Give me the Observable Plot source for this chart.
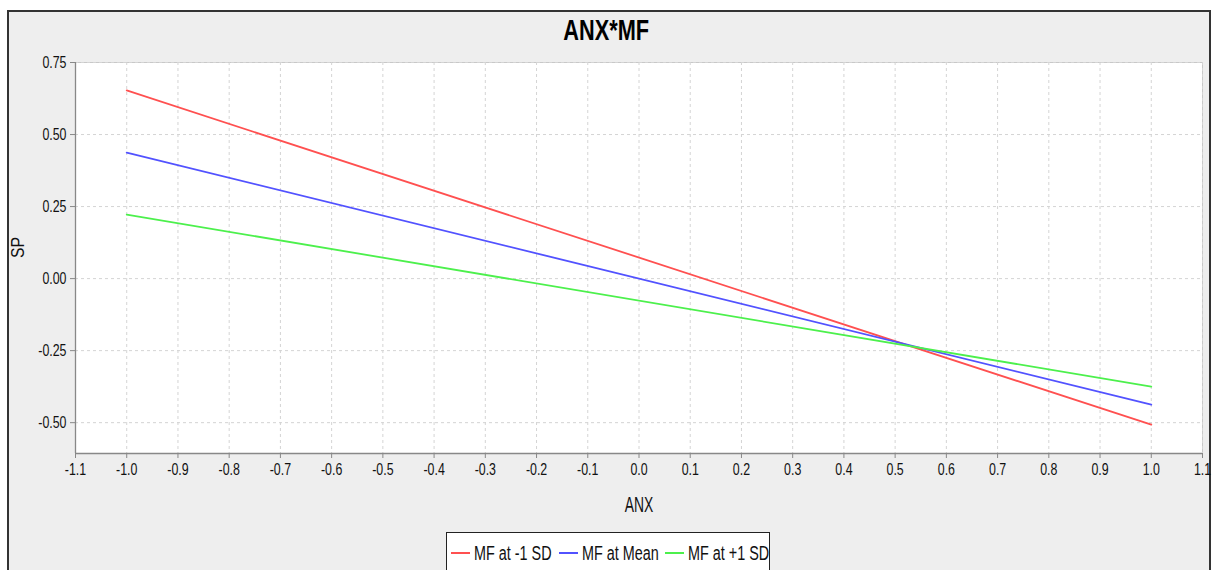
<!DOCTYPE html>
<html>
<head>
<meta charset="utf-8">
<script src="https://cdn.jsdelivr.net/npm/d3@7"></script>
<script src="https://cdn.jsdelivr.net/npm/@observablehq/plot@0.6"></script>
<style>
  html, body { margin: 0; padding: 0; background: #ffffff; width: 1213px; height: 570px; overflow: hidden; font-family: "Liberation Sans", Arial, sans-serif; }
  #frame { position: absolute; left: 7px; top: 10px; width: 1200px; height: 600px; background: #eeeeee; border: 2px solid #333333; }
  #title { position: absolute; left: 0; top: 14px; width: 1213px; text-align: center; font-size: 29px; font-weight: bold; color: #000; }
  #title span { display: inline-block; transform: scaleX(0.75); transform-origin: center; }
  #chart { position: absolute; left: 0; top: 0; }
  #legend { position: absolute; left: 446px; top: 532px; width: 324px; height: 60px; background: #ffffff; border: 1px solid #222222; box-sizing: border-box; display: flex; align-items: flex-start; padding-left: 4px; padding-top: 9px; }
  .item { display: flex; align-items: center; }
  .sw { width: 19px; height: 2px; margin-right: 4px; }
  .lt { display: inline-block; font-size: 20px; line-height: 22px; transform: scaleX(0.72); transform-origin: left center; white-space: nowrap; color: #111; }
</style>
</head>
<body>
<div id="frame"></div>
<div id="title"><span>ANX*MF</span></div>
<div id="chart"></div>
<div id="legend"></div>
<script>
// ---- data ----
const anx = [-1.0, 1.0];
const seriesNames = ["MF at -1 SD", "MF at Mean", "MF at +1 SD"];
const seriesColors = ["#ff5050", "#5252ff", "#4cf04c"];
const spMinus1SD = [0.653, -0.507];
const spMean = [0.4375, -0.4375];
const spPlus1SD = [0.222, -0.375];
const xTicks = [-1.1, -1.0, -0.9, -0.8, -0.7, -0.6, -0.5, -0.4, -0.3, -0.2, -0.1, 0.0, 0.1, 0.2, 0.3, 0.4, 0.5, 0.6, 0.7, 0.8, 0.9, 1.0, 1.1];
const yTicks = [-0.50, -0.25, 0.00, 0.25, 0.50, 0.75];
const xLabel = "ANX";
const yLabel = "SP";

const seriesValues = [spMinus1SD, spMean, spPlus1SD];
const rows = [];
seriesNames.forEach((name, i) => {
  anx.forEach((x, j) => rows.push({series: name, anx: x, sp: seriesValues[i][j]}));
});

const W = 1213, H = 570;
const chart = Plot.plot({
  width: W,
  height: H,
  marginLeft: 75,
  marginRight: 11,
  marginTop: 62,
  marginBottom: 117,
  style: { background: "transparent", fontFamily: "Liberation Sans, Arial, sans-serif", fontSize: "16px", color: "#111" },
  x: { domain: [-1.1, 1.1] },
  y: { domain: [-0.607, 0.75] },
  color: { domain: seriesNames, range: seriesColors },
  marks: [
    Plot.frame({ fill: "#ffffff", stroke: "#c8c8c8" }),
    Plot.gridX(xTicks, { stroke: "#d4d4d4", strokeOpacity: 1, strokeDasharray: "3,3" }),
    Plot.gridY(yTicks, { stroke: "#d4d4d4", strokeOpacity: 1, strokeDasharray: "3,3" }),
    Plot.axisX(xTicks, { tickFormat: d => d.toFixed(1), tickSize: 5, tickPadding: 5, stroke: "#888", label: null, fill: "#111" }),
    Plot.axisY(yTicks, { tickFormat: d => d.toFixed(2), tickSize: 5, tickPadding: 4, stroke: "#888", label: null, fill: "#111" }),
    Plot.ruleX([-1.1], { stroke: "#888", strokeWidth: 1.3 }),
    Plot.ruleY([-0.607], { stroke: "#888", strokeWidth: 1.3 }),
    Plot.line(rows, { x: "anx", y: "sp", z: "series", stroke: "series", strokeWidth: 1.8 }),
    Plot.text([xLabel], { frameAnchor: "bottom", dy: 58, text: d => d, fontSize: 22, fill: "#111" }),
    Plot.text([yLabel], { frameAnchor: "left", dx: -57, text: d => d, fontSize: 17.5, rotate: -90, fill: "#111" })
  ]
});
document.getElementById("chart").appendChild(chart);

// enlarge and condense texts horizontally (the reference uses a narrow face)
chart.querySelectorAll('g[aria-label="x-axis tick label"], g[aria-label="y-axis tick label"]').forEach(g => {
  g.setAttribute("font-size", "16.5");
  g.style.fontSize = "16.5px";
});
function condense(nodes, f) {
  nodes.forEach(t => {
    const w = t.getComputedTextLength();
    t.setAttribute("textLength", (w * f).toFixed(2));
    t.setAttribute("lengthAdjust", "spacingAndGlyphs");
  });
}
condense(chart.querySelectorAll('g[aria-label="x-axis tick label"] text, g[aria-label="y-axis tick label"] text'), 0.75);
const allText = Array.from(chart.querySelectorAll('text'));
condense(allText.filter(t => t.textContent === xLabel), 0.63);
condense(allText.filter(t => t.textContent === yLabel), 0.9);

// ---- legend ----
const legend = document.getElementById("legend");
seriesNames.forEach((name, i) => {
  const item = document.createElement("div");
  item.className = "item";
  const sw = document.createElement("div");
  sw.className = "sw";
  sw.style.background = seriesColors[i];
  const t = document.createElement("span");
  t.className = "lt";
  t.textContent = name;
  item.appendChild(sw);
  item.appendChild(t);
  legend.appendChild(item);
  const w = t.offsetWidth;
  t.style.marginRight = (-(1 - 0.72) * w + 7) + "px";
});
</script>
</body>
</html>
